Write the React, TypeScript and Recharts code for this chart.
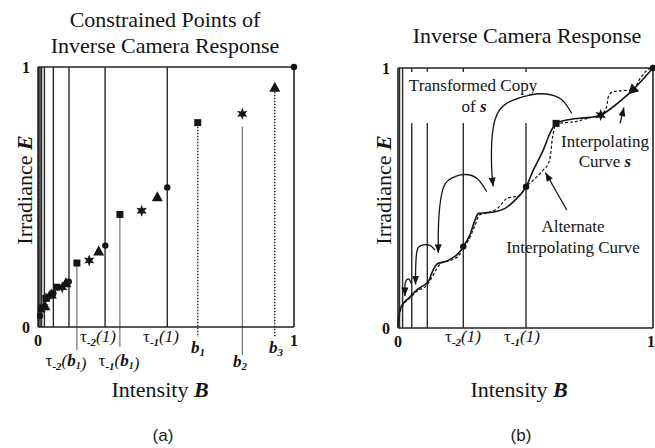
import React from 'react';
import { ComposedChart, XAxis, YAxis, Scatter, Line, ReferenceLine } from 'recharts';

type Pt = { x: number; y: number };

// ---- panel (a): constrained points ----
const tauLinesA = [0.505, 0.262, 0.121, 0.06, 0.025, 0.014, 0.008, 0.003];
const squaresA: Pt[] = [
  { x: 0.624, y: 0.786 }, { x: 0.32, y: 0.433 }, { x: 0.152, y: 0.246 },
  { x: 0.073, y: 0.153 }, { x: 0.031, y: 0.11 }, { x: 0.014, y: 0.07 },
];
const starsA: Pt[] = [
  { x: 0.798, y: 0.82 }, { x: 0.405, y: 0.447 }, { x: 0.2, y: 0.256 },
  { x: 0.095, y: 0.153 }, { x: 0.044, y: 0.119 }, { x: 0.021, y: 0.076 },
];
const trianglesA: Pt[] = [
  { x: 0.925, y: 0.92 }, { x: 0.466, y: 0.499 }, { x: 0.237, y: 0.29 },
  { x: 0.109, y: 0.168 }, { x: 0.052, y: 0.125 }, { x: 0.027, y: 0.08 },
];
const dotsA: Pt[] = [
  { x: 1, y: 1 }, { x: 0.505, y: 0.537 }, { x: 0.263, y: 0.313 },
  { x: 0.12, y: 0.174 }, { x: 0.06, y: 0.13 }, { x: 0.008, y: 0.043 },
];
// drop lines from a point down to its label [x, top, bottom]
const dottedDrops = [[0.624, 0.77, -0.038], [0.925, 0.905, -0.038]];
const thinDrops = [[0.798, 0.77, -0.108], [0.152, 0.235, -0.088], [0.32, 0.42, -0.076]];

// ---- panel (b): interpolating curves ----
const fullLinesB = [0.006, 0.018];
const brokenLinesB = [0.054, 0.115, 0.256, 0.502];
const curveS: Pt[] = [
  { x: 0, y: 0.005 }, { x: 0.001, y: 0.031 }, { x: 0.008, y: 0.069 }, { x: 0.021, y: 0.095 },
  { x: 0.034, y: 0.108 }, { x: 0.047, y: 0.12 }, { x: 0.06, y: 0.133 }, { x: 0.073, y: 0.146 },
  { x: 0.093, y: 0.159 }, { x: 0.113, y: 0.172 }, { x: 0.119, y: 0.178 }, { x: 0.132, y: 0.21 },
  { x: 0.145, y: 0.236 }, { x: 0.158, y: 0.249 }, { x: 0.184, y: 0.255 }, { x: 0.211, y: 0.268 },
  { x: 0.237, y: 0.287 }, { x: 0.256, y: 0.313 }, { x: 0.282, y: 0.358 }, { x: 0.302, y: 0.415 },
  { x: 0.315, y: 0.441 }, { x: 0.341, y: 0.443 }, { x: 0.38, y: 0.447 }, { x: 0.42, y: 0.46 },
  { x: 0.459, y: 0.492 }, { x: 0.502, y: 0.543 }, { x: 0.531, y: 0.608 }, { x: 0.57, y: 0.685 },
  { x: 0.596, y: 0.749 }, { x: 0.62, y: 0.787 }, { x: 0.661, y: 0.8 }, { x: 0.714, y: 0.807 },
  { x: 0.753, y: 0.81 }, { x: 0.795, y: 0.819 }, { x: 0.844, y: 0.851 }, { x: 0.884, y: 0.883 },
  { x: 0.92, y: 0.915 }, { x: 1, y: 1 },
];
const curveAlt: Pt[] = [
  { x: 0, y: 0.005 }, { x: 0.008, y: 0.06 }, { x: 0.021, y: 0.09 }, { x: 0.047, y: 0.115 },
  { x: 0.073, y: 0.14 }, { x: 0.113, y: 0.165 }, { x: 0.13, y: 0.19 }, { x: 0.15, y: 0.225 },
  { x: 0.17, y: 0.25 }, { x: 0.211, y: 0.262 }, { x: 0.24, y: 0.28 }, { x: 0.256, y: 0.313 },
  { x: 0.275, y: 0.335 }, { x: 0.3, y: 0.39 }, { x: 0.32, y: 0.435 }, { x: 0.35, y: 0.442 },
  { x: 0.39, y: 0.46 }, { x: 0.43, y: 0.5 }, { x: 0.46, y: 0.505 }, { x: 0.48, y: 0.512 },
  { x: 0.502, y: 0.543 }, { x: 0.531, y: 0.569 }, { x: 0.57, y: 0.608 }, { x: 0.59, y: 0.633 },
  { x: 0.599, y: 0.672 }, { x: 0.603, y: 0.71 }, { x: 0.609, y: 0.749 }, { x: 0.62, y: 0.787 },
  { x: 0.66, y: 0.79 }, { x: 0.7, y: 0.795 }, { x: 0.75, y: 0.808 }, { x: 0.795, y: 0.819 },
  { x: 0.818, y: 0.851 }, { x: 0.825, y: 0.89 }, { x: 0.844, y: 0.909 }, { x: 0.884, y: 0.913 },
  { x: 0.92, y: 0.915 }, { x: 0.95, y: 0.96 }, { x: 0.975, y: 0.99 }, { x: 1, y: 1 },
];
const dotsB: Pt[] = [{ x: 0.256, y: 0.313 }, { x: 0.502, y: 0.543 }, { x: 1, y: 1 }];
const squaresB: Pt[] = [{ x: 0.62, y: 0.787 }];
const starsB: Pt[] = [{ x: 0.795, y: 0.819 }];
const trianglesB: Pt[] = [{ x: 0.92, y: 0.915 }];

// curved "copy" arrows
const arcBig: Pt[] = [
  { x: 0.681, y: 0.826 }, { x: 0.64, y: 0.88 }, { x: 0.58, y: 0.9 }, { x: 0.518, y: 0.896 },
  { x: 0.426, y: 0.864 }, { x: 0.38, y: 0.8 }, { x: 0.367, y: 0.7 }, { x: 0.368, y: 0.6 },
  { x: 0.373, y: 0.545 },
];
const arcMid: Pt[] = [
  { x: 0.348, y: 0.524 }, { x: 0.31, y: 0.575 }, { x: 0.256, y: 0.59 }, { x: 0.2, y: 0.57 },
  { x: 0.175, y: 0.53 }, { x: 0.162, y: 0.45 }, { x: 0.158, y: 0.36 }, { x: 0.158, y: 0.288 },
];
const arcSmall: Pt[] = [
  { x: 0.145, y: 0.3 }, { x: 0.125, y: 0.318 }, { x: 0.099, y: 0.32 }, { x: 0.08, y: 0.31 },
  { x: 0.072, y: 0.28 }, { x: 0.069, y: 0.22 }, { x: 0.069, y: 0.167 },
];
const arcTiny: Pt[] = [
  { x: 0.051, y: 0.172 }, { x: 0.045, y: 0.186 }, { x: 0.037, y: 0.188 }, { x: 0.03, y: 0.178 },
  { x: 0.027, y: 0.16 }, { x: 0.027, y: 0.122 },
];
const arrowInterp: Pt[] = [{ x: 0.871, y: 0.787 }, { x: 0.886, y: 0.848 }];
const arrowAlt: Pt[] = [{ x: 0.662, y: 0.454 }, { x: 0.578, y: 0.598 }];

const serif = '"Liberation Serif", "Times New Roman", serif';
const ink = '#141414';
const tickStyle = { fontFamily: serif, fontSize: 16, fontWeight: 700, fill: ink };

const squareShape = (p: any) => <rect x={p.cx - 3.5} y={p.cy - 3.5} width={7} height={7} fill={ink} />;
const dotShape = (p: any) => <circle cx={p.cx} cy={p.cy} r={3.2} fill={ink} />;
const starShape = (p: any) => {
  const pts: string[] = [];
  for (let i = 0; i < 12; i++) {
    const r = i % 2 === 0 ? 6 : 2.8;
    const a = (Math.PI / 6) * i - Math.PI / 2;
    pts.push(`${p.cx + r * Math.cos(a)},${p.cy + r * Math.sin(a)}`);
  }
  return <polygon points={pts.join(' ')} fill={ink} />;
};
const triangleShape = (rot: number) => (p: any) => (
  <polygon
    points={`${p.cx},${p.cy - 6} ${p.cx + 5.5},${p.cy + 4} ${p.cx - 5.5},${p.cy + 4}`}
    fill={ink}
    transform={`rotate(${rot} ${p.cx} ${p.cy})`}
  />
);

const Tau = ({ x, y, sub, arg }: { x: number; y: number; sub: string; arg: React.ReactNode }) => (
  <text x={x} y={y} textAnchor="middle" fontFamily={serif} fontSize={17} fill={ink}>
    <tspan>τ</tspan>
    <tspan fontSize={11} dy={4} fontStyle="italic" fontWeight={700}>{sub}</tspan>
    <tspan dy={-4} fontStyle="italic">({arg})</tspan>
  </text>
);

const BLabel = ({ x, y, n }: { x: number; y: number; n: string }) => (
  <text x={x} y={y} textAnchor="middle" fontFamily={serif} fontSize={17} fontWeight={700} fontStyle="italic" fill={ink}>
    <tspan>b</tspan>
    <tspan fontSize={11} dy={3}>{n}</tspan>
  </text>
);

const B1 = () => (
  <>
    <tspan fontWeight={700}>b</tspan>
    <tspan fontSize={10} dy={3} fontWeight={700}>1</tspan>
    <tspan dy={-3}></tspan>
  </>
);

const frameProps = { stroke: '#222', strokeWidth: 1.6 };
const gridLine = { stroke: '#2a2a2a', strokeWidth: 1.4 };

const arrowLine = (data: Pt[], key: string, type: any = 'natural') => (
  <Line
    key={key}
    data={data}
    dataKey="y"
    type={type}
    stroke={ink}
    strokeWidth={1.3}
    dot={false}
    activeDot={false}
    isAnimationActive={false}
    markerEnd="url(#arrowHead)"
  />
);

export default function App() {
  return (
    <div style={{ position: 'absolute', left: 0, top: 0, width: 655, height: 448, background: '#fff', overflow: 'hidden' }}>
      <svg width={0} height={0} style={{ position: 'absolute' }}>
        <defs>
          <marker id="arrowHead" viewBox="0 0 10 8" refX={10} refY={4} markerWidth={9} markerHeight={7} markerUnits="userSpaceOnUse" orient="auto">
            <path d="M0,0 L10,4 L0,8 z" fill={ink} />
          </marker>
        </defs>
      </svg>

      {/* panel (a) */}
      <div style={{ position: 'absolute', left: 0, top: 0 }}>
        <ComposedChart width={330} height={448} margin={{ top: 67, right: 36, bottom: 91, left: 8 }}>
          <XAxis type="number" dataKey="x" domain={[0, 1]} ticks={[0, 1]} axisLine={frameProps} tickLine={false} tick={tickStyle} height={30} />
          <YAxis type="number" dataKey="y" domain={[0, 1]} ticks={[0, 1]} axisLine={frameProps} tickLine={false} tick={tickStyle} width={30} />
          <ReferenceLine y={1} {...frameProps} />
          <ReferenceLine x={1} {...frameProps} />
          {tauLinesA.map((t) => (
            <ReferenceLine key={`ta${t}`} x={t} {...gridLine} />
          ))}
          {dottedDrops.map(([x, y1, y2]) => (
            <ReferenceLine key={`dd${x}`} segment={[{ x, y: y1 }, { x, y: y2 }]} stroke={ink} strokeWidth={1.3} strokeDasharray="1.5 1.5" ifOverflow="visible" />
          ))}
          {thinDrops.map(([x, y1, y2]) => (
            <ReferenceLine key={`td${x}`} segment={[{ x, y: y1 }, { x, y: y2 }]} stroke="#555" strokeWidth={1} ifOverflow="visible" />
          ))}
          <Scatter data={squaresA} shape={squareShape} isAnimationActive={false} />
          <Scatter data={starsA} shape={starShape} isAnimationActive={false} />
          <Scatter data={trianglesA} shape={triangleShape(0)} isAnimationActive={false} />
          <Scatter data={dotsA} shape={dotShape} isAnimationActive={false} />
        </ComposedChart>
      </div>

      {/* panel (b) */}
      <div style={{ position: 'absolute', left: 330, top: 0 }}>
        <ComposedChart width={325} height={448} margin={{ top: 68, right: 2, bottom: 90, left: 38 }}>
          <XAxis type="number" dataKey="x" domain={[0, 1]} ticks={[0, 1]} axisLine={frameProps} tickLine={false} tick={tickStyle} height={30} />
          <YAxis type="number" dataKey="y" domain={[0, 1]} ticks={[0, 1]} axisLine={frameProps} tickLine={false} tick={tickStyle} width={30} />
          <ReferenceLine y={1} {...frameProps} />
          <ReferenceLine x={1} {...frameProps} />
          {fullLinesB.map((t) => (
            <ReferenceLine key={`fb${t}`} x={t} {...gridLine} />
          ))}
          {brokenLinesB.map((t) => (
            <ReferenceLine key={`bl${t}`} segment={[{ x: t, y: 0 }, { x: t, y: 0.788 }]} {...gridLine} />
          ))}
          {brokenLinesB.map((t) => (
            <ReferenceLine key={`bt${t}`} segment={[{ x: t, y: 0.985 }, { x: t, y: 1 }]} {...gridLine} />
          ))}
          <Line data={curveAlt} dataKey="y" type="monotone" stroke={ink} strokeWidth={1.2} strokeDasharray="3 2" dot={false} activeDot={false} isAnimationActive={false} />
          <Line data={curveS} dataKey="y" type="monotone" stroke={ink} strokeWidth={1.6} dot={false} activeDot={false} isAnimationActive={false} />
          {arrowLine(arcBig, 'arcBig')}
          {arrowLine(arcMid, 'arcMid')}
          {arrowLine(arcSmall, 'arcSmall')}
          {arrowLine(arcTiny, 'arcTiny')}
          {arrowLine(arrowInterp, 'arrowInterp', 'linear')}
          {arrowLine(arrowAlt, 'arrowAlt', 'linear')}
          <Scatter data={squaresB} shape={squareShape} isAnimationActive={false} />
          <Scatter data={starsB} shape={starShape} isAnimationActive={false} />
          <Scatter data={trianglesB} shape={triangleShape(-135)} isAnimationActive={false} />
          <Scatter data={dotsB} shape={dotShape} isAnimationActive={false} />
        </ComposedChart>
      </div>

      {/* text layer */}
      <svg width={655} height={448} style={{ position: 'absolute', left: 0, top: 0, pointerEvents: 'none' }}>
        <g fontFamily={serif} fill={ink}>
          <text x={165} y={27} textAnchor="middle" fontSize={22}>Constrained Points of</text>
          <text x={165} y={53} textAnchor="middle" fontSize={22}>Inverse Camera Response</text>
          <text x={527} y={43} textAnchor="middle" fontSize={22}>Inverse Camera Response</text>

          <text transform="translate(32,190) rotate(-90)" textAnchor="middle" fontSize={22}>
            Irradiance <tspan fontWeight={700} fontStyle="italic">E</tspan>
          </text>
          <text transform="translate(391,190) rotate(-90)" textAnchor="middle" fontSize={22}>
            Irradiance <tspan fontWeight={700} fontStyle="italic">E</tspan>
          </text>

          <text x={160} y={397} textAnchor="middle" fontSize={22}>
            Intensity <tspan fontWeight={700} fontStyle="italic">B</tspan>
          </text>
          <text x={519} y={397} textAnchor="middle" fontSize={22}>
            Intensity <tspan fontWeight={700} fontStyle="italic">B</tspan>
          </text>

          <Tau x={98} y={342} sub="-2" arg="1" />
          <Tau x={161} y={342} sub="-1" arg="1" />
          <Tau x={66} y={366} sub="-2" arg={<B1 />} />
          <Tau x={119} y={366} sub="-1" arg={<B1 />} />
          <BLabel x={198} y={353} n="1" />
          <BLabel x={240} y={367} n="2" />
          <BLabel x={276} y={353} n="3" />

          <Tau x={463} y={342} sub="-2" arg="1" />
          <Tau x={522} y={342} sub="-1" arg="1" />

          <text x={473} y={91} textAnchor="middle" fontSize={17}>Transformed Copy</text>
          <text x={474} y={112} textAnchor="middle" fontSize={17}>
            of <tspan fontWeight={700} fontStyle="italic">s</tspan>
          </text>
          <text x={605} y={147} textAnchor="middle" fontSize={17}>Interpolating</text>
          <text x={605} y={167} textAnchor="middle" fontSize={17}>
            Curve <tspan fontWeight={700} fontStyle="italic">s</tspan>
          </text>
          <text x={573} y={232} textAnchor="middle" fontSize={17}>Alternate</text>
          <text x={573} y={253} textAnchor="middle" fontSize={17}>Interpolating Curve</text>
        </g>
        <g fontFamily="Arial, 'Liberation Sans', sans-serif" fontSize={17} fill="#222">
          <text x={163} y={441} textAnchor="middle">(a)</text>
          <text x={521} y={441} textAnchor="middle">(b)</text>
        </g>
      </svg>
    </div>
  );
}
